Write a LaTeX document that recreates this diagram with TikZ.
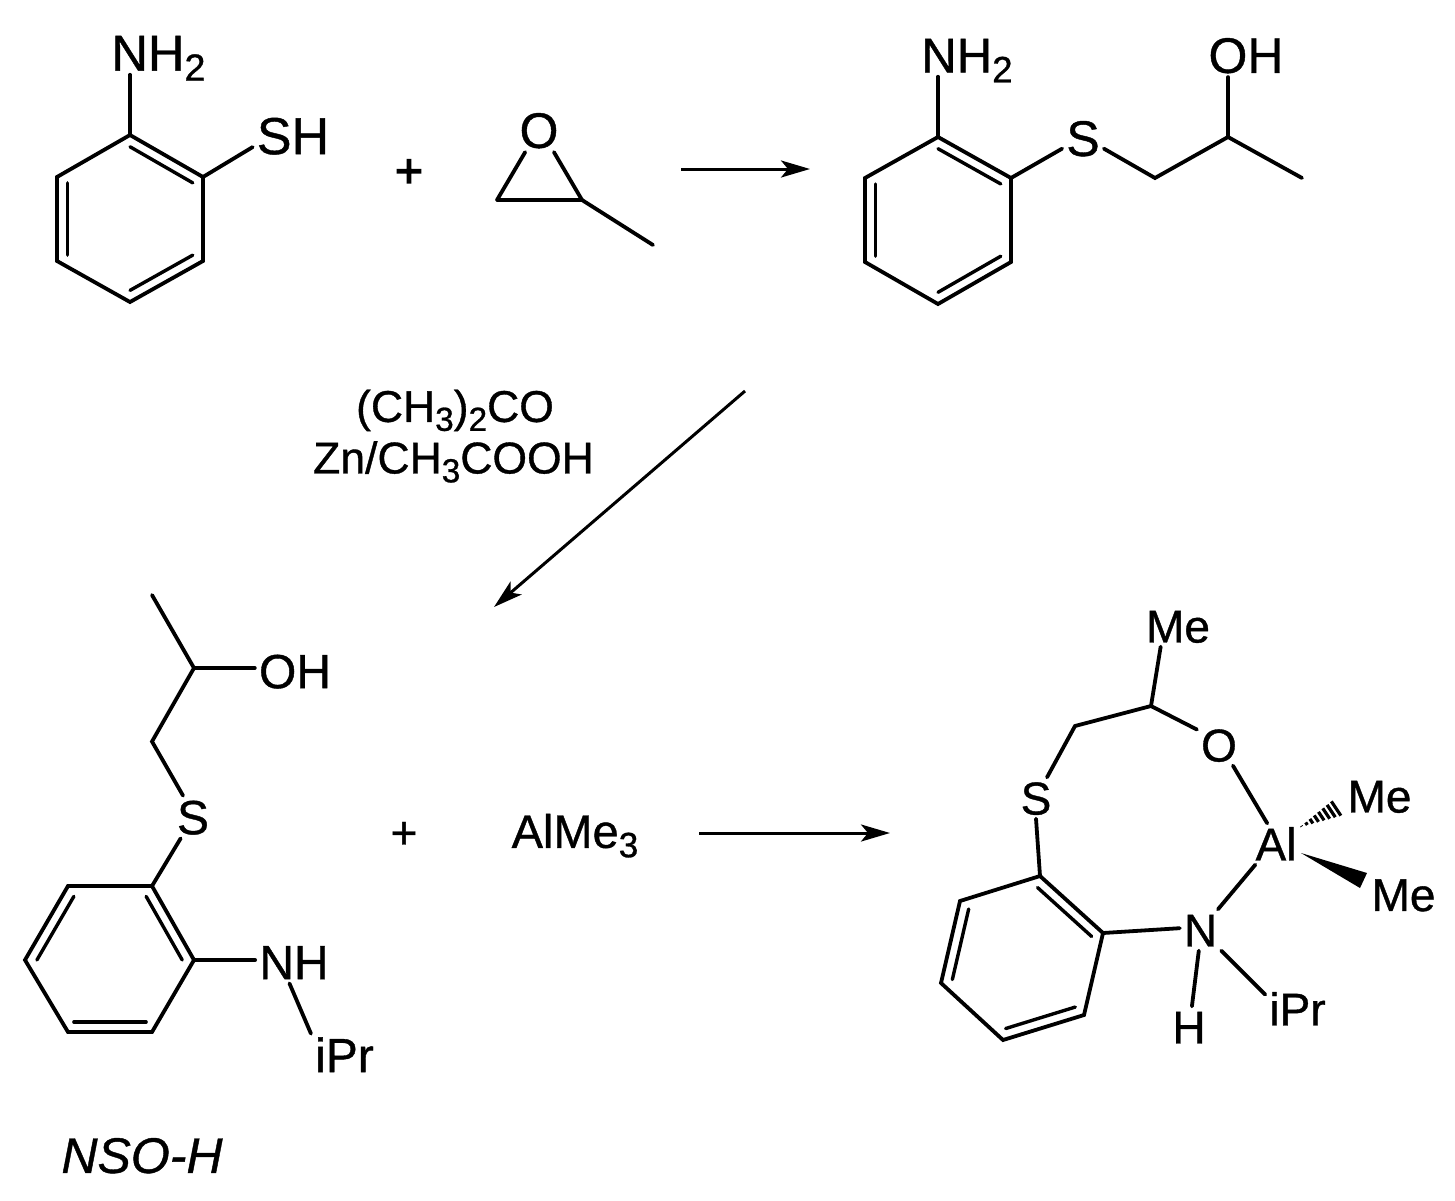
\documentclass[tikz,border=0pt]{standalone}
\usepackage{fontspec}
\setmainfont{Liberation Sans}[FakeBold=0.8]
\newfontfamily\plusfont{Liberation Sans}[FakeBold=3]
\usetikzlibrary{calc,arrows.meta}
\newcommand{\subs}[1]{\raisebox{-.2em}{\scalebox{.75}{#1}}}
\tikzset{
  atom/.style={font=\fontsize{#1}{#1}\selectfont,inner sep=4pt,text height={.716*#1 pt},text depth=0pt},
  bond/.style={line width=3.8pt,line cap=round,line join=miter},
  dbl/.style={line width=3.4pt,line cap=round},
  rxn/.style={line width=3pt,-{Stealth[length=29pt,width=17pt,inset=7pt]}}
}
\begin{document}
\begin{tikzpicture}[x=1pt,y=-1pt]
\fill[white] (0,0) rectangle (1455,1200);
\useasboundingbox (0,0) rectangle (1455,1200);

\coordinate (a1) at (130,135);
\coordinate (a2) at (203,177);
\coordinate (a3) at (203,261);
\coordinate (a4) at (130,302);
\coordinate (a5) at (57,261);
\coordinate (a6) at (57,177);
\coordinate (cena) at (130,219);
\node[atom=50.5] (nha) at (158.5,52.5) {NH\subs{2}};
\node[atom=52] (sha) at (293,135.5) {SH};
\draw[bond] (a1) -- (a2) -- (a3) -- (a4) -- (a5) -- (a6) -- cycle;
\foreach \p/\q in {a1/a2,a3/a4,a5/a6}{ \draw[dbl] ($(\p)!.14!(cena)$) -- ($(\q)!.14!(cena)$); }
\draw[bond] (a1) -- (a1 |- nha.south);
\draw[bond] (a2) -- (sha.196);

\node[atom=48,font=\fontsize{48}{48}\selectfont\plusfont] (plusa) at (409,170) {+};

\coordinate (ep1) at (497,200);
\coordinate (ep2) at (582,200);
\coordinate (epm) at (653,245);
\node[atom=50] (ox) at (539,130) {O};
\draw[bond] (ep1) -- (ep2) -- (epm);
\draw[bond] (ep1) -- (ox.238);
\draw[bond] (ep2) -- (ox.-56);

\coordinate (ar1s) at (681,169);
\coordinate (ar1e) at (810,169);
\draw[rxn] (ar1s) -- (ar1e);

\coordinate (b1) at (938,137);
\coordinate (b2) at (1011,178);
\coordinate (b3) at (1011,262);
\coordinate (b4) at (938,304);
\coordinate (b5) at (865,262);
\coordinate (b6) at (865,178);
\coordinate (cenb) at (938,220.5);
\coordinate (c1) at (1155,178);
\coordinate (c2) at (1228,137);
\coordinate (c3) at (1302,178);
\node[atom=49] (nhb) at (967,55) {NH\subs{2}};
\node[atom=50] (sb) at (1083,138) {S};
\node[atom=50] (ohb) at (1246,55) {OH};
\draw[bond] (b1) -- (b2) -- (b3) -- (b4) -- (b5) -- (b6) -- cycle;
\foreach \p/\q in {b1/b2,b3/b4,b5/b6}{ \draw[dbl] ($(\p)!.14!(cenb)$) -- ($(\q)!.14!(cenb)$); }
\draw[bond] (b1) -- (b1 |- nhb.south);
\draw[bond] (b2) -- (sb.207);
\draw[bond] (sb.-27) -- (c1) -- (c2) -- (c3);
\draw[bond] (c2) -- (c2 |- ohb.south);

\node[atom=44.5] (acet) at (455,406) {(CH\subs{3})\subs{2}CO};
\node[atom=44.5] (znac) at (453.5,457.5) {Zn/CH\subs{3}COOH};
\coordinate (ar2s) at (745,391);
\coordinate (ar2e) at (494,607);
\draw[rxn] (ar2s) -- (ar2e);

\coordinate (d1) at (152,886);
\coordinate (d2) at (194,960);
\coordinate (d3) at (152,1032);
\coordinate (d4) at (68,1032);
\coordinate (d5) at (25,960);
\coordinate (d6) at (68,886);
\coordinate (cend) at (110,960);
\coordinate (e1) at (152,741.5);
\coordinate (e2) at (194,668);
\coordinate (e3) at (152,595);
\node[atom=48] (sc) at (193,817) {S};
\node[atom=48] (ohc) at (295,671) {OH};
\node[atom=48] (nhc) at (294,962) {NH};
\node[atom=48] (ipc) at (344.5,1055) {iPr};
\draw[bond] (d1) -- (d2) -- (d3) -- (d4) -- (d5) -- (d6) -- cycle;
\foreach \p/\q in {d1/d2,d3/d4,d5/d6}{ \draw[dbl] ($(\p)!.14!(cend)$) -- ($(\q)!.14!(cend)$); }
\draw[bond] (e3) -- (e2) -- (e1) -- (sc.115);
\draw[bond] (e2) -- (e2 -| ohc.west);
\draw[bond] (d1) -- (sc.240);
\draw[bond] (d2) -- (d2 -| nhc.west);
\draw[bond] (nhc.258) -- (ipc.north west);
\node[atom=50,font=\fontsize{50}{50}\selectfont\itshape] (nsoh) at (142,1155) {NSO-H};

\node[atom=46] (plusb) at (404,832) {+};
\node[atom=47] (alme) at (575,831) {AlMe\subs{3}};
\coordinate (ar3s) at (699,833);
\coordinate (ar3e) at (890,833);
\draw[rxn] (ar3s) -- (ar3e);

\coordinate (f1) at (1040,876);
\coordinate (f2) at (1103,933);
\coordinate (f3) at (1084,1015);
\coordinate (f4) at (1003,1040);
\coordinate (f5) at (941,983);
\coordinate (f6) at (960,901);
\coordinate (cenf) at (1022,958);
\coordinate (g1) at (1075,726);
\coordinate (g2) at (1151,706);
\node[atom=46] (mea) at (1178,626) {Me};
\node[atom=46] (oa) at (1219,745) {O};
\node[atom=46] (sa) at (1036,798) {S};
\node[atom=46] (ala) at (1276,844) {Al};
\node[atom=46] (na) at (1200.6,930) {N};
\node[atom=46] (ha) at (1189,1027) {H};
\node[atom=46] (ipa) at (1297.5,1009) {iPr};
\node[atom=46] (meb) at (1379.5,796) {Me};
\node[atom=46] (mec) at (1403.5,894.5) {Me};
\draw[bond] (f1) -- (f2) -- (f3) -- (f4) -- (f5) -- (f6) -- cycle;
\foreach \p/\q in {f1/f2,f3/f4,f5/f6}{ \draw[dbl] ($(\p)!.14!(cenf)$) -- ($(\q)!.14!(cenf)$); }
\draw[bond] (sa.62) -- (g1) -- (g2) -- (oa.145);
\draw[bond] (g2) -- (mea.230);
\draw[bond] (f1) -- (sa.south);
\draw[bond] (f2) -- (na.175);
\draw[bond] (oa.-56) -- (ala.113);
\draw[bond] (ala.225) -- (na.50);
\draw[bond] (na.265) -- (ha.82);
\draw[bond] (na.-45) -- (ipa.156);
\coordinate (ht) at (1300,827);
\coordinate (hl) at (1333,800);
\coordinate (hr) at (1343,815);
\foreach \t in {0.04,0.17,0.3,0.43,0.56,0.69,0.82,0.95}{
  \draw[line width=3.2pt] ($(ht)!\t!(hl)$) -- ($(ht)!\t!(hr)$);
}
\coordinate (wt) at (1301,853);
\coordinate (wl) at (1367,873);
\coordinate (wr) at (1360,888);
\fill (wt) -- (wl) -- (wr) -- cycle;
\end{tikzpicture}
\end{document}
